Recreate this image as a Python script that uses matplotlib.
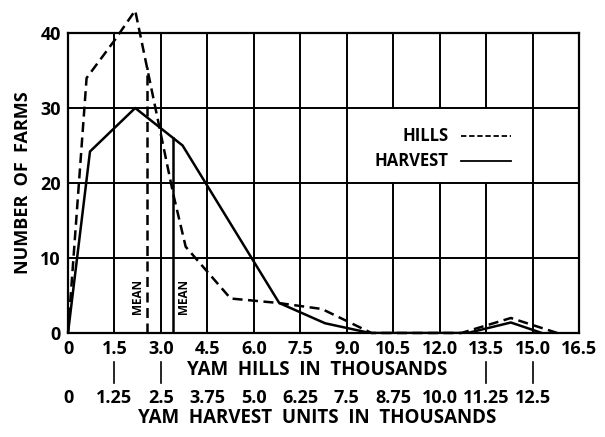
import numpy as np
import matplotlib
matplotlib.use("Agg")
import matplotlib.pyplot as plt

plt.rcParams['font.family'] = ['Open Sans', 'DejaVu Sans']
plt.rcParams['font.weight'] = 'bold'
plt.rcParams['axes.labelweight'] = 'bold'

# yam hills (thousands) -> number of farms, dashed curve
hills_x = [0, 0.6, 1.5, 2.17, 3.4, 3.8, 5.25, 6.8, 8.2, 9.8, 12.7, 14.3, 15.8]
hills_y = [0, 34, 39, 43, 18.5, 11.5, 4.6, 4.0, 3.2, 0, 0, 2.0, 0]

# harvest (plotted on the hills scale) -> number of farms, solid curve
harv_x = [0, 0.71, 2.17, 3.7, 6.82, 8.3, 9.75, 12.9, 14.3, 15.3]
harv_y = [0, 24.2, 30, 25, 4.0, 1.3, 0, 0, 1.4, 0]

hills_mean = 2.55
harv_mean = 3.38

hill_ticks = [0, 1.5, 3.0, 4.5, 6.0, 7.5, 9.0, 10.5, 12.0, 13.5, 15.0, 16.5]
hill_labels = ['0', '1.5', '3.0', '4.5', '6.0', '7.5', '9.0', '10.5', '12.0', '13.5', '15.0', '16.5']
harv_ticks = [0, 1.25, 2.5, 3.75, 5.0, 6.25, 7.5, 8.75, 10.0, 11.25, 12.5]
harv_labels = ['0', '1.25', '2.5', '3.75', '5.0', '6.25', '7.5', '8.75', '10.0', '11.25', '12.5']
harv_marked = [1.25, 2.5, 11.25, 12.5]
y_ticks = [0, 10, 20, 30, 40]


def harv_to_hills(u):
    return u * 1.2


fig = plt.figure(figsize=(6.05, 4.37), dpi=100)
ax = fig.add_axes([68 / 605, (437 - 333) / 437, 511 / 605, 300 / 437])
ax.set_xlim(0, 16.5)
ax.set_ylim(0, 40)

# grid, with a blank patch where the legend sits
for x in hill_ticks[1:-1]:
    if 9.0 < x < 15.0:
        ax.plot([x, x], [0, 20], color='black', lw=1.4, zorder=1)
        ax.plot([x, x], [30, 40], color='black', lw=1.4, zorder=1)
    else:
        ax.plot([x, x], [0, 40], color='black', lw=1.4, zorder=1)
for y in y_ticks[1:-1]:
    ax.axhline(y, color='black', lw=1.4, zorder=1)

for s in ax.spines.values():
    s.set_linewidth(1.6)

ax.plot(hills_x, hills_y, color='black', lw=1.8, ls=(0, (4, 2.2)), clip_on=False, zorder=3)
ax.plot(harv_x, harv_y, color='black', lw=1.8, zorder=3)

# mean lines up to the curves
ax.plot([hills_mean, hills_mean], [0, np.interp(hills_mean, hills_x, hills_y)],
        color='black', lw=1.8, ls=(0, (4, 2.2)), zorder=3)
ax.plot([harv_mean, harv_mean], [0, np.interp(harv_mean, harv_x, harv_y)],
        color='black', lw=1.8, zorder=3)
ax.text(2.26, 4.8, 'MEAN', rotation=90, ha='center', va='center', fontsize=8.5)
ax.text(3.72, 4.8, 'MEAN', rotation=90, ha='center', va='center', fontsize=8.5)

# legend
ax.text(12.3, 26.3, 'HILLS', ha='right', va='center', fontsize=12)
ax.text(12.3, 23.0, 'HARVEST', ha='right', va='center', fontsize=12)
ax.plot([12.7, 14.3], [26.3, 26.3], color='black', lw=1.3, ls=(0, (3, 1.5)))
ax.plot([12.7, 14.3], [23.0, 23.0], color='black', lw=1.3)

ax.set_xticks(hill_ticks, labels=hill_labels)
ax.set_yticks(y_ticks)
ax.tick_params(length=0, labelsize=13)
ax.tick_params(axis='x', pad=5)
ax.tick_params(axis='y', pad=5)

ax.set_ylabel('NUMBER  OF  FARMS', fontsize=13, labelpad=6)

tr = ax.get_xaxis_transform()
ax.text(8.05, -0.123, 'YAM  HILLS  IN  THOUSANDS', transform=tr, ha='center', va='center',
        fontsize=13.5)
for u in harv_marked:
    ax.plot([harv_to_hills(u)] * 2, [-0.097, -0.167], transform=tr, color='black', lw=1.2, clip_on=False)
for u, lab in zip(harv_ticks, harv_labels):
    ax.text(harv_to_hills(u), -0.217, lab, transform=tr, ha='center', va='center', fontsize=13)
ax.text(8.05, -0.283, 'YAM  HARVEST  UNITS  IN  THOUSANDS', transform=tr, ha='center', va='center',
        fontsize=13.5)

fig.savefig('out.png', dpi=100)
